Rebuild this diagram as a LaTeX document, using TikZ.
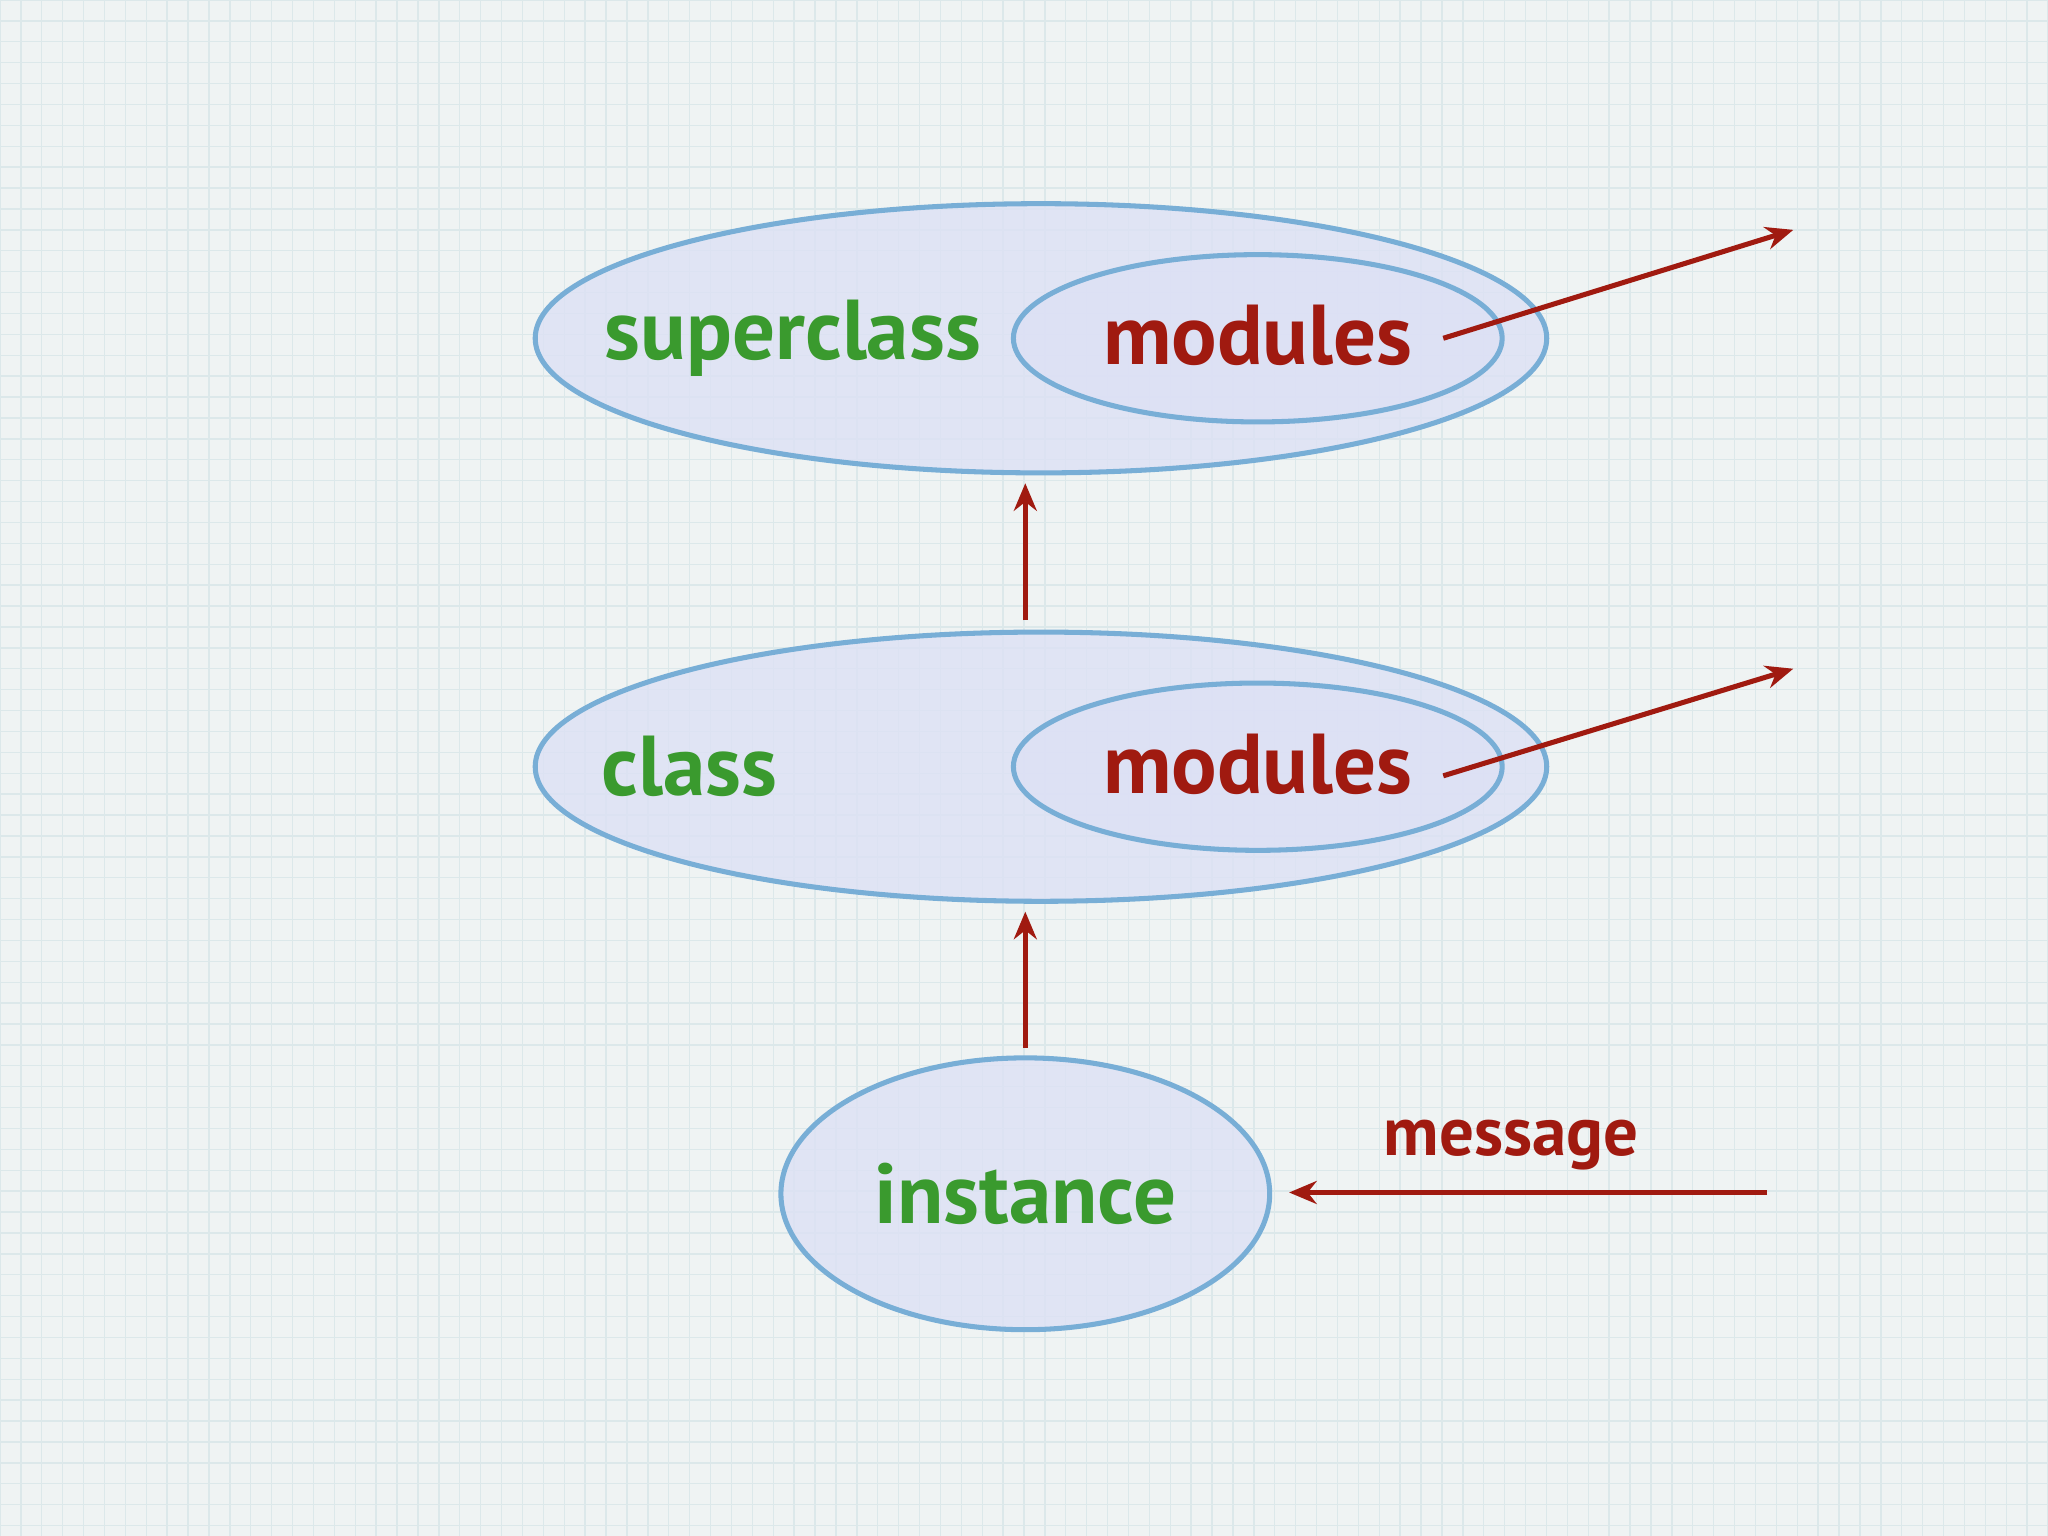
\documentclass[tikz,border=0pt]{standalone}
\usepackage{fontspec}
\setmainfont{PT Sans}
\usetikzlibrary{shapes.geometric,arrows.meta}
\definecolor{gr}{HTML}{3A9A2E}
\definecolor{rd}{HTML}{A01A10}
\definecolor{ef}{HTML}{DCE0F5}
\definecolor{es}{HTML}{78AED6}
\definecolor{bg}{HTML}{EFF3F3}
\definecolor{gl}{HTML}{DCE8EA}
\tikzset{
 ell/.style={ellipse,draw=es,line width=1.1pt,fill=ef,fill opacity=0.75,inner sep=0pt},
 lbl/.style={font=\bfseries\fontsize{18.5}{20}\selectfont},
 arr/.style={draw=rd,line width=1.1pt,-{Stealth[length=6pt,width=5pt]}}
}
\begin{document}
\begin{tikzpicture}[x=0.01cm,y=-0.01cm]
\useasboundingbox (0,0) rectangle (1568,1176);
\fill[bg] (0,0) rectangle (1568,1176);
\foreach \i in {0,16,...,1568} \draw[gl,line width=0.3pt] (\i,0) -- (\i,1176);
\foreach \i in {0,16,...,1176} \draw[gl,line width=0.3pt] (0,\i) -- (1568,\i);
\node[ell,minimum width=7.74cm,minimum height=2.06cm] (sup) at (797,259) {};
\node[ell,minimum width=3.74cm,minimum height=1.28cm] (supm) at (963,259) {};
\node[ell,minimum width=7.74cm,minimum height=2.06cm] (cls) at (797,587) {};
\node[ell,minimum width=3.74cm,minimum height=1.28cm] (clsm) at (963,587) {};
\node[ell,minimum width=3.74cm,minimum height=2.08cm] (inst) at (785,914) {};
\node[lbl,text=gr] (t1) at (607,259) {superclass};
\node[lbl,text=rd] (t2) at (963,257) {modules};
\node[lbl,text=gr] (t3) at (528,587) {class};
\node[lbl,text=rd] (t4) at (963,585) {modules};
\node[lbl,text=gr] (t5) at (785,914) {instance};
\node[lbl,text=rd,font=\bfseries\fontsize{15}{17}\selectfont] (t6) at (1157,877) {message};
\coordinate (a1) at (785,475); \coordinate (b1) at (785,370);
\coordinate (a2) at (785,802); \coordinate (b2) at (785,698);
\coordinate (a3) at (1105,259); \coordinate (b3) at (1373,176);
\coordinate (a4) at (1105,594); \coordinate (b4) at (1373,512);
\coordinate (a5) at (1353,913); \coordinate (b5) at (987,913);
\draw[arr] (a1) -- (b1);
\draw[arr] (a2) -- (b2);
\draw[arr] (a3) -- (b3);
\draw[arr] (a4) -- (b4);
\draw[arr] (a5) -- (b5);
\end{tikzpicture}
\end{document}
